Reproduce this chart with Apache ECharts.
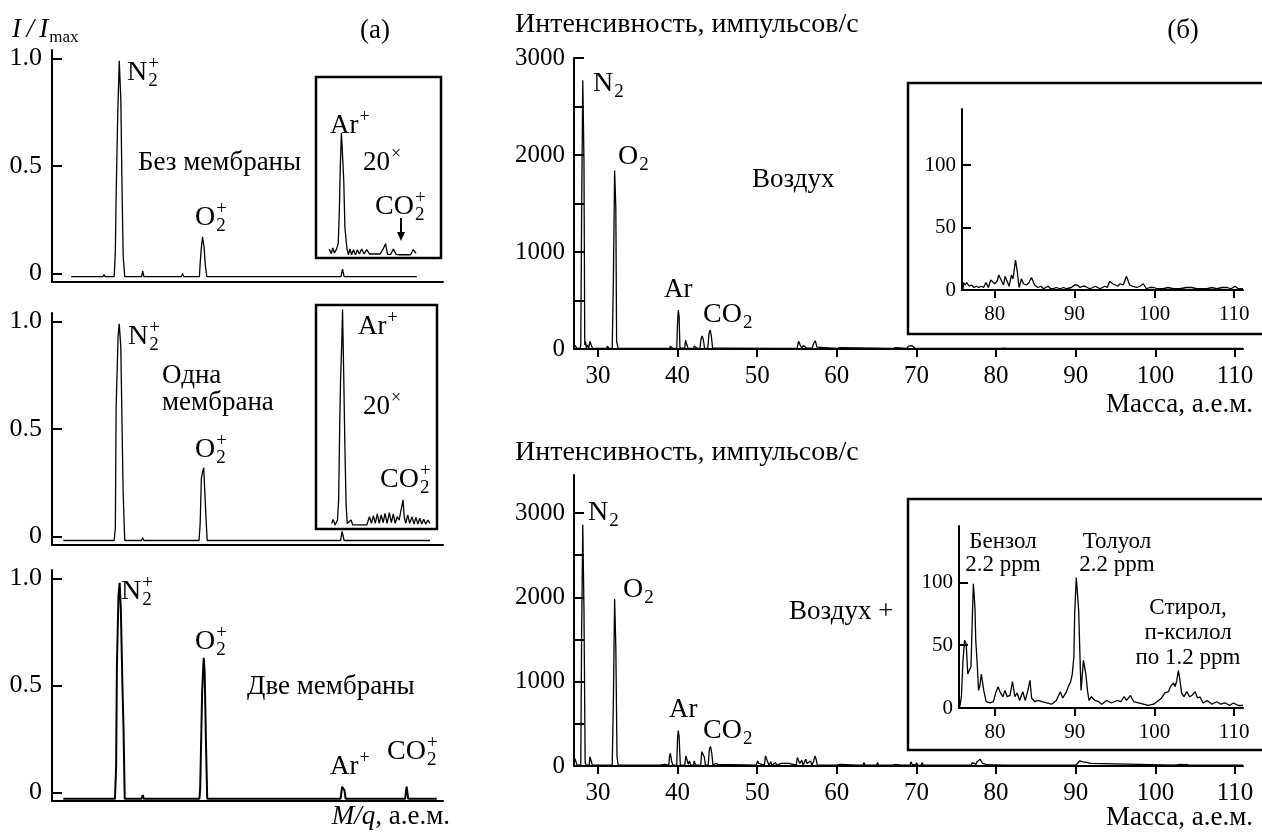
<!DOCTYPE html>
<html>
<head>
<meta charset="utf-8">
<title>Масс-спектры воздуха</title>
<script src="https://cdn.jsdelivr.net/npm/echarts@6/dist/echarts.min.js"></script>
<style>
  html, body { margin: 0; padding: 0; background: #fff; }
  #main { width: 1262px; height: 834px; }
</style>
</head>
<body>
<div id="main"></div>
<script>
// ---- data (a): normalised spectra, x in arbitrary channel units ----
var noMembrane = [[4.9,-0.015],[13.0,-0.015],[13.3,-0.005],[13.6,-0.015],[15.9,-0.015],[16.2,0.10],[16.4,0.36],[16.8,0.73],[17.2,0.99],[17.6,0.81],[17.9,0.41],[18.2,0.08],[18.6,-0.015],[22.9,-0.015],[23.2,0.01],[23.5,-0.015],[33.1,-0.015],[33.4,0.0],[33.7,-0.015],[37.7,-0.015],[37.9,0.05],[38.2,0.12],[38.5,0.17],[38.9,0.12],[39.2,0.04],[39.6,-0.015],[73.9,-0.015],[74.3,0.02],[74.7,-0.015],[93.3,-0.015]];
var oneMembrane = [[2.9,-0.019],[15.9,-0.019],[16.2,0.04],[16.4,0.60],[16.9,0.93],[17.2,0.99],[17.6,0.88],[17.9,0.53],[18.2,0.20],[18.6,-0.019],[22.9,-0.019],[23.2,-0.006],[23.5,-0.019],[37.6,-0.019],[37.9,0.06],[38.2,0.27],[38.5,0.30],[38.8,0.32],[39.05,0.22],[39.4,0.08],[39.7,-0.019],[73.8,-0.019],[74.2,0.023],[74.7,-0.019],[96.7,-0.019]];
var twoMembranes = [[2.9,-0.03],[16.1,-0.03],[16.4,0.12],[16.6,0.59],[17.0,0.92],[17.3,0.98],[17.6,0.86],[18.0,0.51],[18.3,0.29],[18.6,-0.03],[22.9,-0.03],[23.2,-0.012],[23.5,-0.03],[37.7,-0.03],[37.9,0.02],[38.2,0.29],[38.4,0.47],[38.8,0.63],[39.05,0.56],[39.4,0.21],[39.7,-0.03],[73.8,-0.03],[74.2,0.027],[74.8,0.01],[75.1,-0.03],[90.3,-0.03],[90.7,0.027],[91.1,-0.03],[98.4,-0.03]];
// 20x insets, y as fraction of the inset height
var noMembraneZoom = [[70.9,0.05],[71.4,0.024],[71.8,0.055],[72.2,0.028],[72.8,0.05],[73.2,0.083],[73.5,0.28],[73.7,0.49],[74.0,0.69],[74.2,0.61],[74.6,0.43],[74.9,0.17],[75.4,0.055],[75.8,0.018],[76.2,0.05],[76.6,0.018],[77.1,0.046],[77.6,0.018],[78.1,0.046],[78.6,0.022],[79.2,0.05],[79.8,0.022],[80.5,0.046],[81.2,0.022],[82.0,0.022],[83.9,0.022],[84.7,0.05],[85.3,0.079],[85.8,0.02],[86.6,0.02],[87.3,0.05],[88.0,0.02],[89.0,0.018],[90.7,0.018],[91.7,0.018],[92.4,0.046],[93.1,0.025]];
var oneMembraneZoom = [[71.5,0.025],[71.9,0.043],[72.4,0.018],[73.0,0.04],[73.3,0.13],[73.6,0.49],[73.8,0.67],[74.1,0.83],[74.3,0.98],[74.6,0.69],[74.9,0.37],[75.2,0.115],[75.5,0.025],[76.0,0.018],[76.5,0.04],[76.9,0.018],[78.8,0.018],[80.5,0.018],[81.2,0.055],[81.7,0.025],[82.2,0.06],[82.7,0.025],[83.2,0.067],[83.7,0.025],[84.2,0.063],[84.7,0.028],[85.2,0.07],[85.7,0.025],[86.3,0.073],[86.8,0.028],[87.3,0.067],[87.8,0.025],[88.3,0.055],[88.8,0.04],[89.3,0.085],[89.8,0.13],[90.1,0.055],[90.5,0.025],[91.0,0.063],[91.5,0.025],[92.1,0.055],[92.6,0.022],[93.1,0.052],[93.6,0.022],[94.1,0.048],[94.6,0.022],[95.1,0.043],[95.6,0.022],[96.2,0.04],[96.7,0.025]];

// ---- data (б): mass (а.е.м.) vs counts per second ----
var airSpectrum = [[27.0,10],[27.1,40],[27.3,40],[27.4,5],[27.7,5],[27.85,30],[27.95,1330],[28.1,2770],[28.25,1950],[28.35,40],[28.45,80],[28.55,10],[28.7,40],[28.85,10],[29.0,80],[29.15,70],[29.3,10],[29.6,5],[30.5,5],[31.1,5],[31.2,30],[31.4,5],[31.8,5],[31.95,740],[32.1,1840],[32.25,1460],[32.35,80],[32.45,70],[32.55,5],[34.2,5],[34.3,20],[34.45,5],[39.0,5],[39.1,30],[39.3,30],[39.4,5],[39.9,5],[40.0,270],[40.1,400],[40.2,330],[40.3,10],[40.9,10],[41.0,90],[41.15,70],[41.3,10],[41.5,25],[41.7,5],[42.0,5],[42.1,30],[42.3,25],[42.5,5],[42.8,5],[42.95,100],[43.1,135],[43.25,90],[43.4,5],[43.8,5],[43.95,160],[44.1,195],[44.25,130],[44.4,10],[45.1,10],[45.2,20],[45.4,10],[53.1,5],[53.2,15],[53.4,5],[53.9,5],[54.0,20],[54.2,5],[55.0,5],[55.2,80],[55.4,40],[55.6,10],[55.8,35],[56.0,35],[56.2,10],[56.9,10],[57.1,60],[57.3,85],[57.5,20],[57.7,5],[60.0,5],[60.1,15],[60.4,15],[60.5,5],[67.0,5],[67.1,15],[67.4,15],[67.5,5],[68.8,5],[69.0,30],[69.2,10],[69.4,35],[69.6,40],[69.8,10],[70.5,5],[70.6,20],[70.8,5],[72.5,5],[72.6,15],[72.8,5],[80.5,5],[80.7,15],[81.0,10],[81.2,20],[81.5,5],[82.3,5],[82.5,20],[82.8,5],[83.0,15],[83.2,5],[111,5]];
var airZoom = [[76.0,0],[76.1,6],[76.3,4],[76.5,6],[76.8,3],[77.1,4],[77.4,2],[77.7,3],[78.0,2],[78.3,3],[78.6,2],[78.9,6],[79.2,2],[79.5,8],[80.0,5],[80.3,7],[80.5,12],[80.8,8],[81.1,4],[81.3,11],[81.5,12],[81.8,3],[82.1,12],[82.3,9],[82.6,24],[82.8,16],[83.05,2],[83.35,9],[83.6,5],[84.0,4],[84.3,6],[84.6,10],[85.0,4],[85.4,2],[85.8,3],[86.1,1],[86.4,2],[86.7,3],[87.0,1],[87.3,1],[87.7,2],[88.2,1],[88.6,2],[89.0,1],[89.6,2],[90.0,4],[90.3,4],[90.7,2],[91.0,3],[91.3,3],[91.6,2],[91.9,1],[92.3,2],[92.6,3],[92.9,2],[93.2,1],[93.5,2],[93.8,3],[94.1,2],[94.4,7],[94.8,5],[95.1,4],[95.4,3],[95.7,5],[96.1,4],[96.5,11],[96.9,4],[97.3,3],[97.8,2],[98.2,3],[98.6,5],[99.0,1],[99.4,2],[99.9,2],[100.4,1],[101.1,1],[101.7,2],[102.4,1],[103.2,1],[104.0,2],[104.7,2],[105.3,1],[106.0,1],[106.6,1],[107.2,2],[107.8,1],[108.5,2],[109.1,2],[109.6,1],[110.1,3],[110.5,1],[111.1,1]];
var airVocSpectrum = [[27.0,10],[27.1,90],[27.3,90],[27.4,10],[27.85,10],[27.95,1490],[28.1,2860],[28.25,1870],[28.4,40],[28.55,10],[28.9,10],[29.0,110],[29.15,120],[29.3,10],[31.8,10],[31.95,810],[32.1,1980],[32.25,1420],[32.4,110],[32.55,10],[37.8,10],[37.9,20],[38.4,20],[38.5,10],[38.9,10],[39.0,120],[39.1,150],[39.25,60],[39.4,10],[39.9,10],[40.0,330],[40.1,420],[40.2,340],[40.35,10],[40.9,10],[41.05,120],[41.2,130],[41.35,20],[41.5,60],[41.65,10],[42.0,10],[42.1,60],[42.25,10],[42.9,10],[43.05,170],[43.2,190],[43.35,110],[43.5,10],[43.85,10],[44.0,200],[44.15,230],[44.3,150],[44.45,10],[44.7,10],[44.8,30],[44.95,10],[45.1,20],[45.25,10],[49.9,10],[50.05,60],[50.2,30],[50.35,10],[50.9,10],[51.05,120],[51.2,100],[51.35,40],[51.5,10],[51.7,50],[51.85,10],[52.3,40],[52.45,10],[53.0,30],[53.15,10],[54.0,30],[54.15,10],[54.9,10],[55.05,100],[55.2,90],[55.35,30],[55.6,70],[55.75,10],[56.1,80],[56.25,30],[56.7,60],[56.85,10],[57.1,60],[57.25,120],[57.4,80],[57.55,10],[60.0,10],[60.1,20],[60.4,20],[60.5,10],[62.6,10],[62.7,25],[62.85,10],[63.3,10],[63.4,40],[63.55,10],[65.0,10],[65.1,40],[65.25,10],[67.0,10],[67.1,20],[67.4,20],[67.5,10],[68.0,10],[68.1,25],[68.25,10],[69.2,10],[69.3,50],[69.45,20],[69.9,10],[70.0,40],[70.15,10],[70.6,10],[70.7,40],[70.85,10],[73.0,10],[73.1,15],[73.25,10],[76.9,10],[77.0,40],[77.15,20],[77.5,20],[77.6,50],[77.8,30],[78.0,80],[78.15,70],[78.3,30],[78.5,40],[78.7,20],[79.1,15],[79.3,10],[81.0,10],[81.1,15],[81.25,10],[83.0,10],[83.1,15],[83.25,10],[90.0,10],[90.2,25],[90.5,60],[90.7,80],[90.9,50],[91.1,40],[91.5,40],[91.9,30],[92.1,10],[102.3,10],[102.5,15],[102.8,15],[103.2,20],[103.5,15],[103.8,20],[104.2,10],[111,10]];
var airVocZoom = [[75.6,1],[75.8,9],[76.0,38],[76.2,54],[76.4,51],[76.6,27],[76.8,27],[77.0,33],[77.2,78],[77.3,99],[77.5,80],[77.6,54],[77.8,33],[77.95,14],[78.1,17],[78.3,27],[78.6,14],[78.9,5],[79.4,4],[79.8,5],[80.1,12],[80.4,17],[80.7,12],[81.0,9],[81.25,14],[81.55,9],[81.9,10],[82.2,21],[82.5,9],[82.8,12],[83.1,6],[83.5,13],[83.8,6],[84.1,13],[84.4,22],[84.6,8],[85.0,5],[85.4,6],[85.9,5],[86.5,4],[87.1,3],[87.7,6],[88.2,13],[88.5,8],[88.9,12],[89.2,17],[89.5,21],[89.7,27],[89.9,41],[90.0,75],[90.2,104],[90.3,105],[90.5,78],[90.7,33],[90.8,14],[91.1,38],[91.25,39],[91.4,27],[91.6,14],[91.8,6],[92.1,9],[92.55,6],[93.0,5],[93.4,3],[94.0,6],[94.6,4],[95.3,6],[95.8,5],[96.2,9],[96.5,6],[97.0,10],[97.4,5],[98.0,4],[98.6,3],[99.2,2],[99.9,3],[100.5,6],[100.9,8],[101.3,12],[101.75,13],[102.0,17],[102.4,20],[102.6,17],[102.8,22],[103.0,30],[103.2,22],[103.4,12],[103.7,9],[104.05,13],[104.4,9],[104.7,10],[105.1,13],[105.4,8],[105.7,9],[106.1,4],[106.6,6],[107.2,3],[107.8,5],[108.3,3],[108.9,4],[109.4,2],[109.9,4],[110.5,2],[111.1,2]];

// ---- ticks ----
var ratioTicks = [0, 0.5, 1];
var massTicks = [30, 40, 50, 60, 70, 80, 90, 100, 110];
var countTicks = [0, 500, 1000, 1500, 2000, 2500, 3000];
var countLabels = [0, 1000, 2000, 3000];
var zoomMassTicks = [80, 90, 100, 110];
var zoomCountTicks = [0, 50, 100];

var FONT = '"Liberation Serif", "Times New Roman", serif';
var BLACK = '#000';

var chart = echarts.init(document.getElementById('main'));

// text helpers for the annotations (sub/superscripts)
var measure = document.createElement('canvas').getContext('2d');
function font(size, italic) { return (italic ? 'italic ' : '') + size + 'px ' + FONT; }
function textW(s, f) { measure.font = f; return measure.measureText(s).width; }
function txt(x, y, s, size, align, italic) {
	return {
		type: 'text', x: x, y: y, z: 100, silent: true,
		style: {
			text: s, font: font(size, italic), fill: BLACK,
			align: align || 'left', verticalAlign: 'middle',
			textAlign: align || 'left', textVerticalAlign: 'middle'
		}
	};
}
function chem(x, y, base, sub, sup, size) {
	var w = textW(base, font(size));
	var s = Math.round(size * 0.68);
	var els = [txt(x, y, base, size)];
	if (sub) els.push(txt(x + w + 1, y + size * 0.3, sub, s));
	if (sup) els.push(txt(x + w + 1, y - size * 0.33, sup, s));
	return els;
}
function plain(v) { return String(v); }

var axisLine = { show: true, onZero: false, lineStyle: { color: BLACK, width: 2 } };

// grids: 0-2 left panels, 3-4 left insets, 5-6 right panels, 7-8 right insets
var grids = [
	{ left: 52, top: 50, width: 391, height: 232 },
	{ left: 52, top: 313, width: 391, height: 232 },
	{ left: 52, top: 570, width: 391, height: 231 },
	{ left: 316, top: 77, width: 125, height: 181, show: true, borderColor: BLACK, borderWidth: 2.5, backgroundColor: 'transparent' },
	{ left: 316, top: 305, width: 121, height: 224, show: true, borderColor: BLACK, borderWidth: 2.5, backgroundColor: 'transparent' },
	{ left: 574, top: 58, width: 669, height: 291 },
	{ left: 574, top: 475, width: 669, height: 291 },
	{ left: 962, top: 109, width: 281, height: 181 },
	{ left: 959, top: 526, width: 284, height: 182 }
];

var xAxes = [], yAxes = [];
// left panels: no mass scale shown
for (var i = 0; i < 3; i++) {
	xAxes.push({ gridIndex: i, type: 'value', min: 0, max: 100, axisLine: axisLine,
		axisTick: { show: false }, axisLabel: { show: false }, splitLine: { show: false } });
	yAxes.push({ gridIndex: i, type: 'value', min: -0.04, max: 1.04, axisLine: axisLine,
		axisTick: { show: true, inside: true, length: 10, customValues: ratioTicks, lineStyle: { color: BLACK, width: 2 } },
		axisLabel: { customValues: ratioTicks, fontFamily: FONT, fontSize: 26, color: BLACK, margin: 10,
			formatter: function (v) { return v === 0 ? '0' : v.toFixed(1); } },
		splitLine: { show: false } });
}
// left insets: bare traces
xAxes.push({ gridIndex: 3, type: 'value', min: 67.5, max: 99.5, show: false });
yAxes.push({ gridIndex: 3, type: 'value', min: 0, max: 1, show: false });
xAxes.push({ gridIndex: 4, type: 'value', min: 67.5, max: 98.5, show: false });
yAxes.push({ gridIndex: 4, type: 'value', min: 0, max: 1, show: false });
// right panels
[5, 6].forEach(function (g, k) {
	xAxes.push({ gridIndex: g, type: 'value', min: 27, max: 111, axisLine: axisLine,
		axisTick: { show: true, length: 8, customValues: massTicks, lineStyle: { color: BLACK, width: 2 } },
		axisLabel: { customValues: massTicks, fontFamily: FONT, fontSize: 25, color: BLACK, margin: 15, formatter: plain },
		splitLine: { show: false } });
	yAxes.push({ gridIndex: g, type: 'value', min: 0, max: k === 0 ? 3000 : 3450, axisLine: axisLine,
		axisTick: { show: true, inside: true, length: 10, customValues: countTicks, lineStyle: { color: BLACK, width: 2 } },
		axisLabel: { customValues: countLabels, fontFamily: FONT, fontSize: 25, color: BLACK, margin: 9, formatter: plain },
		splitLine: { show: false } });
});
// right insets
[[7, 75.9], [8, 75.5]].forEach(function (p) {
	xAxes.push({ gridIndex: p[0], type: 'value', min: p[1], max: 111.1, axisLine: axisLine, z: 10,
		axisTick: { show: true, length: 8, customValues: zoomMassTicks, lineStyle: { color: BLACK, width: 2 } },
		axisLabel: { customValues: zoomMassTicks, fontFamily: FONT, fontSize: 21, color: BLACK, margin: 14, formatter: plain },
		splitLine: { show: false } });
	yAxes.push({ gridIndex: p[0], type: 'value', min: 0, max: 145, axisLine: axisLine, z: 10,
		axisTick: { show: true, inside: true, length: 9, customValues: zoomCountTicks, lineStyle: { color: BLACK, width: 2 } },
		axisLabel: { customValues: zoomCountTicks, fontFamily: FONT, fontSize: 21, color: BLACK, margin: 6, formatter: plain },
		splitLine: { show: false } });
});

var traces = [noMembrane, oneMembrane, twoMembranes, noMembraneZoom, oneMembraneZoom,
	airSpectrum, airVocSpectrum, airZoom, airVocZoom];
var series = traces.map(function (d, i) {
	return {
		type: 'line', xAxisIndex: i, yAxisIndex: i, data: d,
		symbol: 'none', showSymbol: false, silent: true, z: i > 6 ? 10 : 3,
		lineStyle: { color: BLACK, width: i === 2 ? 2 : 1.3 }
	};
});

// annotations
var g = [];
function add(a) { g = g.concat(a); }
// (a)
var iLabel = 'I\u2009/\u2009I';
var iw = textW(iLabel, font(27, true));
add(txt(12, 30, iLabel, 27, 'left', true));
add(txt(12 + iw + 1, 38, 'max', 17));
add(txt(375, 31, '(a)', 27, 'center'));
add(chem(127, 73, 'N', '2', '+', 28));
add(txt(138, 163, 'Без мембраны', 27));
add(chem(195, 218, 'O', '2', '+', 28));
add(chem(330, 126, 'Ar', null, '+', 27));
add(chem(363, 163, '20', null, '×', 27));
add(chem(375, 207, 'CO', '2', '+', 28));
add([{ type: 'line', z: 100, silent: true, shape: { x1: 401, y1: 218, x2: 401, y2: 235 }, style: { stroke: BLACK, lineWidth: 2 } },
	{ type: 'polygon', z: 100, silent: true, shape: { points: [[397, 232], [405, 232], [401, 241]] }, style: { fill: BLACK } }]);
add(chem(128, 337, 'N', '2', '+', 28));
add(txt(162, 376, 'Одна', 27));
add(txt(162, 403, 'мембрана', 27));
add(chem(195, 450, 'O', '2', '+', 28));
add(chem(358, 327, 'Ar', null, '+', 27));
add(chem(363, 407, '20', null, '×', 27));
add(chem(380, 480, 'CO', '2', '+', 28));
add(chem(121, 592, 'N', '2', '+', 28));
add(chem(195, 642, 'O', '2', '+', 28));
add(txt(247, 687, 'Две мембраны', 27));
add(chem(330, 767, 'Ar', null, '+', 27));
add(chem(387, 752, 'CO', '2', '+', 28));
var mw = textW('M/q', font(27, true)), rw = textW(', а.е.м.', font(27));
add(txt(450 - mw - rw, 817, 'M/q', 27, 'left', true));
add(txt(450 - rw, 817, ', а.е.м.', 27));
// (б)
add(txt(515, 25, 'Интенсивность, импульсов/с', 28));
add(txt(1183, 31, '(б)', 27, 'center'));
add(chem(593, 84, 'N', '2', null, 28));
add(chem(618, 157, 'O', '2', null, 28));
add(txt(752, 180, 'Воздух', 27));
add(txt(664, 290, 'Ar', 27));
add(chem(703, 315, 'CO', '2', null, 28));
add(txt(1253, 405, 'Масса, а.е.м.', 27, 'right'));
add(txt(515, 453, 'Интенсивность, импульсов/с', 28));
add(chem(588, 513, 'N', '2', null, 28));
add(chem(623, 590, 'O', '2', null, 28));
add(txt(789, 612, 'Воздух +', 27));
add(txt(669, 710, 'Ar', 27));
add(chem(703, 731, 'CO', '2', null, 28));
add(txt(1253, 818, 'Масса, а.е.м.', 27, 'right'));
add(txt(1003, 542, 'Бензол', 23, 'center'));
add(txt(1003, 565, '2.2 ppm', 23, 'center'));
add(txt(1117, 542, 'Толуол', 23, 'center'));
add(txt(1117, 565, '2.2 ppm', 23, 'center'));
add(txt(1188, 608, 'Стирол,', 23, 'center'));
add(txt(1188, 633, 'п-ксилол', 23, 'center'));
add(txt(1188, 658, 'по 1.2 ppm', 23, 'center'));
// inset frames on the right (run off the page edge)
add([{ type: 'rect', z: 5, silent: true, shape: { x: 908, y: 83, width: 370, height: 251 }, style: { fill: 'transparent', stroke: BLACK, lineWidth: 2.5 } },
	{ type: 'rect', z: 5, silent: true, shape: { x: 908, y: 499, width: 370, height: 251 }, style: { fill: 'transparent', stroke: BLACK, lineWidth: 2.5 } }]);

chart.setOption({
	animation: false,
	backgroundColor: '#fff',
	grid: grids,
	xAxis: xAxes,
	yAxis: yAxes,
	series: series,
	graphic: { elements: g }
});
</script>
</body>
</html>
